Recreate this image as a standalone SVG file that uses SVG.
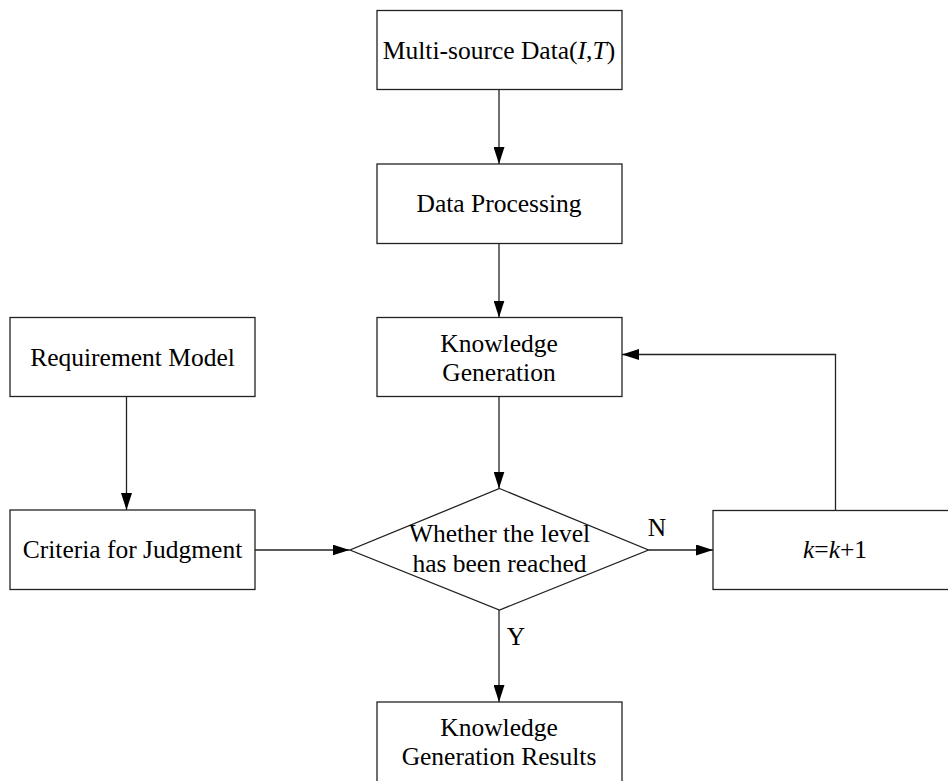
<svg xmlns="http://www.w3.org/2000/svg" width="948" height="781" viewBox="0 0 948 781">
<defs>
<marker id="ah" markerWidth="17" markerHeight="11" refX="17" refY="5.5" orient="auto" markerUnits="userSpaceOnUse">
<path d="M0,0 L17,5.5 L0,11 Z" fill="#000"/>
</marker>
<style>
.box{fill:#fff;stroke:#222;stroke-width:1.3}
.t{font-family:"Liberation Serif","Times New Roman",serif;font-size:25.5px;fill:#000;text-anchor:middle}
.c{fill:none;stroke:#222;stroke-width:1.3}
</style>
</defs>
<rect width="948" height="781" fill="#fff"/>
<g id="connectors">
<path class="c" d="M499,89.5 V164" marker-end="url(#ah)"/>
<path class="c" d="M499,243.5 V317.5" marker-end="url(#ah)"/>
<path class="c" d="M499,396.5 V488.5" marker-end="url(#ah)"/>
<path class="c" d="M126.5,396.5 V510" marker-end="url(#ah)"/>
<path class="c" d="M255,550 H349.5" marker-end="url(#ah)"/>
<path class="c" d="M648.5,550 H713" marker-end="url(#ah)"/>
<path class="c" d="M835.5,510 V354.5 H622" marker-end="url(#ah)"/>
<path class="c" d="M499,610 V702" marker-end="url(#ah)"/>
</g>
<g id="n_source">
<rect class="box" x="377" y="10.5" width="245" height="79"/>
<text class="t" x="499" y="58.5">Multi-source Data(<tspan font-style="italic">I</tspan>,<tspan font-style="italic">T</tspan>)</text>
</g>
<g id="n_processing">
<rect class="box" x="377" y="164" width="245" height="79.5"/>
<text class="t" x="499" y="212">Data Processing</text>
</g>
<g id="n_generation">
<rect class="box" x="377" y="317.5" width="245" height="79"/>
<text class="t" x="499" y="351.5">Knowledge</text>
<text class="t" x="499" y="380.5">Generation</text>
</g>
<g id="n_requirement">
<rect class="box" x="10" y="317.5" width="245" height="79"/>
<text class="t" x="132.5" y="365.5">Requirement Model</text>
</g>
<g id="n_criteria">
<rect class="box" x="10" y="510" width="245" height="79.5"/>
<text class="t" x="132.5" y="558">Criteria for Judgment</text>
</g>
<g id="n_decision">
<polygon class="box" points="499.5,488.5 648.5,550 499.5,610 350,550"/>
<text class="t" x="499.5" y="542">Whether the level</text>
<text class="t" x="499.5" y="572">has been reached</text>
</g>
<g id="n_k">
<rect class="box" x="713" y="510.5" width="245" height="79"/>
<text class="t" x="835" y="558"><tspan font-style="italic">k</tspan>=<tspan font-style="italic">k</tspan>+1</text>
</g>
<g id="n_results">
<rect class="box" x="377" y="702" width="245" height="82"/>
<text class="t" x="499" y="736">Knowledge</text>
<text class="t" x="499" y="765">Generation Results</text>
</g>
<g id="labels">
<text class="t" x="657" y="536">N</text>
<text class="t" x="516" y="645">Y</text>
</g>
</svg>
